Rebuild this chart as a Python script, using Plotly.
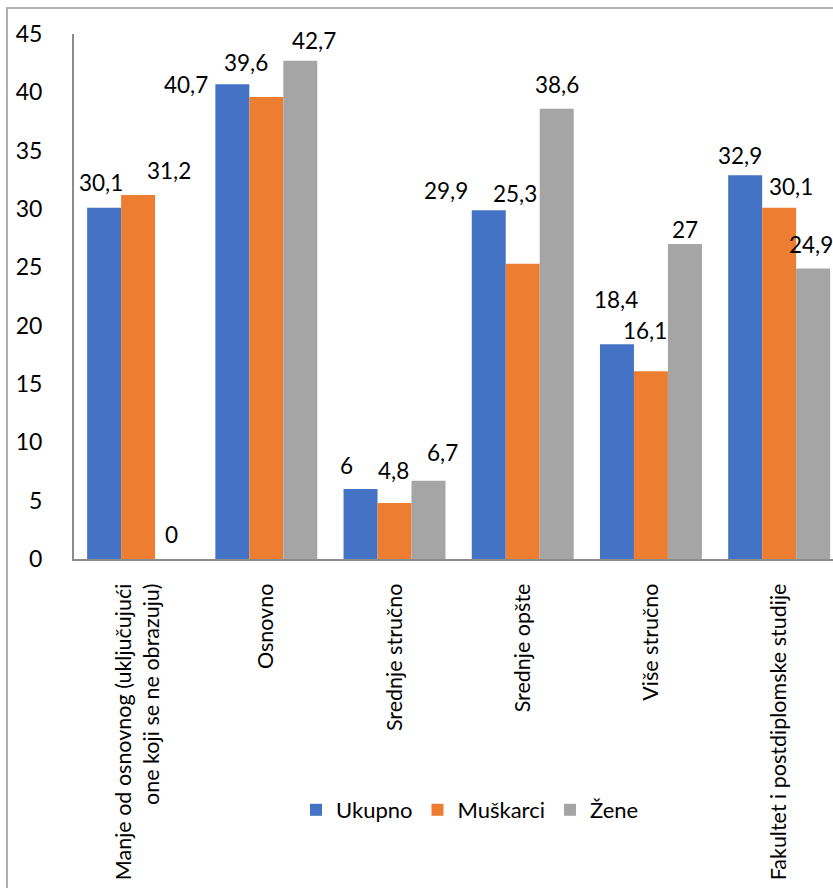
import plotly.graph_objects as go

categories = [
    "Manje od osnovnog (uključujući<br>one koji se ne obrazuju)",
    "Osnovno",
    "Srednje stručno",
    "Srednje opšte",
    "Više stručno",
    "Fakultet i postdiplomske studije",
]
series_names = ["Ukupno", "Muškarci", "Žene"]
ukupno = [30.1, 40.7, 6.0, 29.9, 18.4, 32.9]
muskarci = [31.2, 39.6, 4.8, 25.3, 16.1, 30.1]
zene = [0.0, 42.7, 6.7, 38.6, 27.0, 24.9]
y_ticks = [0, 5, 10, 15, 20, 25, 30, 35, 40, 45]

colors = ["#4472C4", "#ED7D31", "#A5A5A5"]
series_values = [ukupno, muskarci, zene]

# label placement nudges (pixels) reproducing the reference's label layout
label_dx = [
    [-37, -80, -48, -77, -35, -39],
    [31, -20, -1, -8, -6, 12],
    [33, 48, 48, 34, 34, 32],
]
label_dy = [
    [25, 0, 24, 20, 45, 20],
    [25, 35, 33, 70, 41, 21],
    [25, 20, 28, 24, 15, 24],
]

FONT = "Lato, Carlito, Calibri, sans-serif"

def fmt(v):
    s = ("%.1f" % v).rstrip("0").rstrip(".")
    return s.replace(".", ",")

fig = go.Figure()
for name, vals, col in zip(series_names, series_values, colors):
    fig.add_trace(go.Bar(
        name=name, x=categories, y=vals, marker=dict(color=col, line=dict(width=0)),
        hoverinfo="skip",
    ))

annotations = []
for si, vals in enumerate(series_values):
    for ci, v in enumerate(vals):
        annotations.append(dict(
            x=categories[ci], y=v, xref="x", yref="y",
            text=fmt(v), showarrow=False,
            xanchor="center", yanchor="middle",
            xshift=label_dx[si][ci], yshift=label_dy[si][ci],
            font=dict(family=FONT, size=22.5, color="#000000"),
        ))

W, H = 833, 888
L, T, B = 74, 34, 329
pw = W - L
ph = H - T - B

def px(x):
    return (x - L) / pw

def py(y):
    return (H - B - y) / ph

fig.update_layout(
    width=W, height=H,
    margin=dict(l=L, r=0, t=T, b=B, pad=0),
    paper_bgcolor="white", plot_bgcolor="white",
    barmode="group", bargap=0.205, bargroupgap=0,
    font=dict(family=FONT, color="#000000"),
    showlegend=True,
    legend=dict(
        orientation="h", x=px(470), xanchor="center", y=py(810), yanchor="middle",
        font=dict(family=FONT, size=22, color="#000000"),
        itemsizing="constant", traceorder="normal", itemwidth=30,
    ),
    annotations=annotations,
    shapes=[dict(
        type="rect", xref="paper", yref="paper",
        x0=px(7), x1=px(900), y0=py(950), y1=py(8),
        line=dict(color="#b0b0b0", width=2), fillcolor="rgba(0,0,0,0)", layer="below",
    )],
)

fig.update_xaxes(
    type="category", range=[-0.5, 5.42], showgrid=False, zeroline=False,
    showline=True, linecolor="#8c8c8c", linewidth=2, ticks="",
    tickangle=-90, tickfont=dict(family=FONT, size=21.5, color="#000000"),
    ticklabelstandoff=14,
)
fig.update_yaxes(
    range=[0, 45], tickvals=y_ticks, ticktext=[str(t) for t in y_ticks],
    showgrid=False, zeroline=False, showline=True, linecolor="#8c8c8c", linewidth=2,
    ticks="", tickfont=dict(family=FONT, size=23, color="#000000"),
    ticklabelstandoff=25,
)

fig.write_html(
    "out.html",
    config={"displayModeBar": False, "staticPlot": True},
    post_script="document.body.style.margin='0';document.body.style.overflow='hidden';",
)
